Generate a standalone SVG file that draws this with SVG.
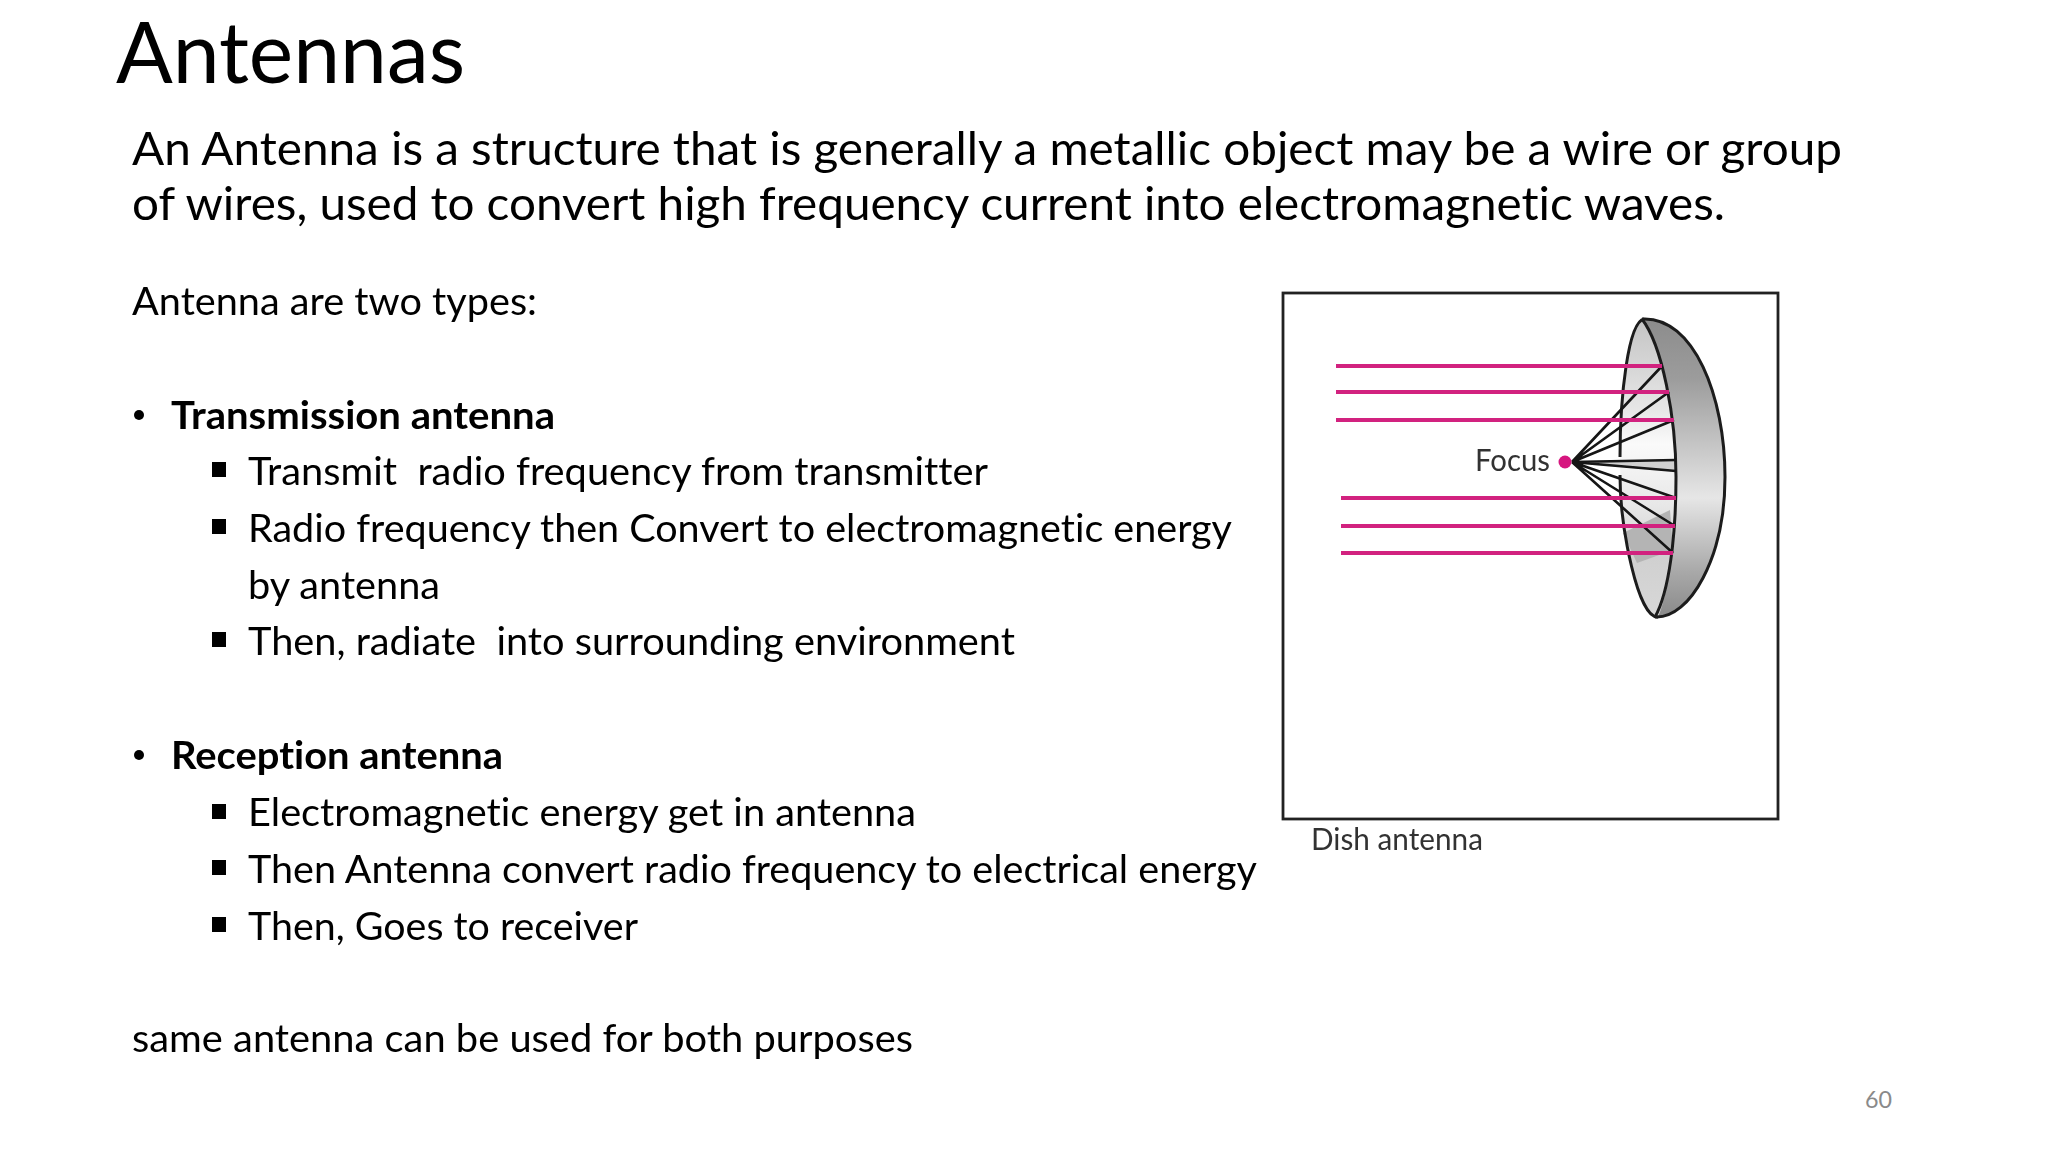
<svg xmlns="http://www.w3.org/2000/svg" width="2048" height="1152" viewBox="0 0 2048 1152">
<defs>
<style>
text{font-family:"Lato","Open Sans","Liberation Sans",sans-serif;fill:#000;font-variant-ligatures:none}
.lead{font-size:46px}
.body{font-size:39px}
.bold{font-size:39px;font-weight:700}
.pic{fill:#333;font-size:30px}
.ray{stroke:#d2207f;stroke-width:4;fill:none}
.spoke{stroke:#141414;stroke-width:2.6;fill:none}
.rim{stroke:#1c1c1c;stroke-width:3;fill:none}
</style>
<linearGradient id="shell" x1="0" y1="0" x2="0" y2="1">
<stop offset="0" stop-color="#8c8c8c"/><stop offset=".2" stop-color="#9c9c9c"/><stop offset=".6" stop-color="#e6e6e6"/><stop offset=".85" stop-color="#a8a8a8"/><stop offset="1" stop-color="#8a8a8a"/>
</linearGradient>
<linearGradient id="inner" x1="0" y1="0" x2="0" y2="1">
<stop offset="0" stop-color="#c4c4c4"/><stop offset=".3" stop-color="#e6e6e6"/><stop offset=".42" stop-color="#fafafa"/><stop offset=".62" stop-color="#e8e8e8"/><stop offset=".8" stop-color="#d0d0d0"/><stop offset="1" stop-color="#d8d8d8"/>
</linearGradient>
<filter id="soft" x="-5%" y="-5%" width="110%" height="110%"><feGaussianBlur stdDeviation="0.7"/></filter>
<filter id="softer" x="-2%" y="-2%" width="104%" height="104%"><feGaussianBlur stdDeviation="0.4"/></filter>
<rect id="sq" width="14" height="15" fill="#000"/>
</defs>
<rect width="2048" height="1152" fill="#fff"/>
<g filter="url(#softer)">
<text x="116" y="83" font-size="85" textLength="349" lengthAdjust="spacingAndGlyphs">Antennas</text>
<text class="lead" x="132" y="165" textLength="1710" lengthAdjust="spacingAndGlyphs">An Antenna is a structure that is generally a metallic object may be a wire or group</text>
<text class="lead" x="132" y="220" textLength="1593" lengthAdjust="spacingAndGlyphs">of wires, used to convert high frequency current into electromagnetic waves.</text>
<text class="body" x="132" y="315" textLength="405" lengthAdjust="spacingAndGlyphs">Antenna are two types:</text>
<circle cx="139" cy="415" r="5" fill="#000"/>
<text class="bold" x="171" y="429" textLength="384" lengthAdjust="spacingAndGlyphs">Transmission antenna</text>
<use href="#sq" x="212" y="462"/>
<text class="body" x="248" y="485" textLength="740" xml:space="preserve" lengthAdjust="spacingAndGlyphs">Transmit  radio frequency from transmitter</text>
<use href="#sq" x="212" y="519"/>
<text class="body" x="248" y="542" textLength="984" lengthAdjust="spacingAndGlyphs">Radio frequency then Convert to electromagnetic energy</text>
<text class="body" x="248" y="599" textLength="192" lengthAdjust="spacingAndGlyphs">by antenna</text>
<use href="#sq" x="212" y="632"/>
<text class="body" x="248" y="655" textLength="767" xml:space="preserve" lengthAdjust="spacingAndGlyphs">Then, radiate  into surrounding environment</text>
<circle cx="139" cy="755" r="5" fill="#000"/>
<text class="bold" x="171" y="769" textLength="332" lengthAdjust="spacingAndGlyphs">Reception antenna</text>
<use href="#sq" x="212" y="804"/>
<text class="body" x="248" y="826" textLength="668" lengthAdjust="spacingAndGlyphs">Electromagnetic energy get in antenna</text>
<use href="#sq" x="212" y="860"/>
<text class="body" x="248" y="883" textLength="1009" lengthAdjust="spacingAndGlyphs">Then Antenna convert radio frequency to electrical energy</text>
<use href="#sq" x="212" y="917"/>
<text class="body" x="248" y="940" textLength="390" lengthAdjust="spacingAndGlyphs">Then, Goes to receiver</text>
<text class="body" x="132" y="1052" textLength="781" lengthAdjust="spacingAndGlyphs">same antenna can be used for both purposes</text>
</g>
<g filter="url(#soft)">
<rect x="1283" y="293" width="495" height="526" fill="#fff" stroke="#222" stroke-width="2.8"/>
<g transform="translate(-8 -3)">
<path d="M1650 322C1702 319 1733 400 1733 480C1733 560 1698 622 1664 620L1684 480Z" fill="url(#shell)"/>
<path d="M1652 322C1636 325 1628 400 1628 460C1628 530 1646 622 1666 620C1677 595 1684 540 1684 480C1684 420 1670 348 1652 322Z" fill="url(#inner)"/>
<path d="M1631 536L1678 513L1681 553L1645 566Z" fill="#b4b4b4"/>
<path d="M1580 465L1684 463V474Z" fill="#d0d0d0"/>
<path class="rim" d="M1652 322C1636 325 1628 400 1628 460M1628 478C1628 530 1646 622 1666 620"/>
<path class="rim" d="M1650 322C1670 348 1684 420 1684 480C1684 540 1677 595 1663 620"/>
<path class="rim" d="M1650 322C1702 319 1733 400 1733 480C1733 560 1698 622 1663 620"/>
<path class="spoke" d="M1580 465L1670 369M1580 465L1677 395M1580 465L1682 423M1580 465L1684 463M1580 465L1684 474M1580 465L1684 501M1580 465L1683 529M1580 465L1681 556"/>
<path class="ray" d="M1344 369H1670M1344 395H1677M1344 423H1682M1349 501H1684M1349 529H1683M1349 556H1681"/>
<circle cx="1573" cy="465" r="6.5" fill="#d6187f"/>
<text class="pic" x="1483" y="474" textLength="75" lengthAdjust="spacingAndGlyphs">Focus</text>
</g>
<text class="pic" x="1311" y="850" textLength="172" lengthAdjust="spacingAndGlyphs">Dish antenna</text>
</g>
<text x="1865" y="1108" font-size="24" style="fill:#8a8a8a" textLength="27" lengthAdjust="spacingAndGlyphs">60</text>
</svg>
